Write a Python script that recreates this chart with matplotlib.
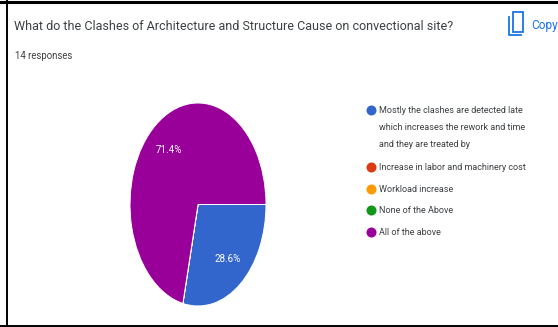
import matplotlib
matplotlib.use("Agg")
import matplotlib.pyplot as plt
from matplotlib.patches import Rectangle

TITLE = "What do the Clashes of Architecture and Structure Cause on convectional site?"
SUBTITLE = "14 responses"
LABELS = [
    "Mostly the clashes are detected late\nwhich increases the rework and time\nand they are treated by",
    "Increase in labor and machinery cost",
    "Workload increase",
    "None of the Above",
    "All of the above",
]
RESPONSES = [4, 0, 0, 0, 10]
COLORS = ["#3366cc", "#dc3912", "#ff9900", "#109618", "#990099"]
LEGEND_Y = [110, 167, 189, 210, 232]

W, H = 558, 327
TEXT_COLOR = "#3c4043"
BLUE = "#1a73e8"

plt.rcParams["font.family"] = ["Roboto", "DejaVu Sans"]


def pct_label(pct):
    return f"{pct:.1f}%" if pct > 0 else ""


fig = plt.figure(figsize=(W / 100, H / 100), dpi=100, facecolor="white")

# overlay in pixel units for the frame, header and legend
page = fig.add_axes([0, 0, 1, 1])
page.set_xlim(0, W)
page.set_ylim(H, 0)
page.axis("off")

page.plot([7, 7], [0, H], color="black", lw=1.4)
page.plot([0, W], [1.5, 1.5], color="black", lw=2.2)
page.plot([0, W], [326, 326], color="black", lw=1.4)

page.text(14, 26, TITLE, fontsize=9, color=TEXT_COLOR, va="center")
page.text(15, 56, SUBTITLE, fontsize=6.9, color=TEXT_COLOR, va="center")

# copy icon
page.add_patch(Rectangle((512.5, 11.5), 10.5, 20, fill=False, ec=BLUE, lw=1.3))
page.plot([509, 509, 521], [17, 35, 35], color=BLUE, lw=1.3)
page.text(531, 25, "Copy", fontsize=8.6, color=BLUE, va="center")

for label, color, y in zip(LABELS, COLORS, LEGEND_Y):
    page.scatter([371], [y], s=52, color=color, linewidths=0)
    page.text(379, y - 4, label, fontsize=6.5, color=TEXT_COLOR, va="top", linespacing=2.15)

# pie is stretched vertically, so the axes box sets the ellipse
ax = fig.add_axes([130 / W, 1 - 306 / H, 136 / W, 203 / H])
ax.pie(
    RESPONSES,
    colors=COLORS,
    startangle=0,
    counterclock=False,
    radius=1,
    autopct=pct_label,
    pctdistance=0.69,
    wedgeprops={"edgecolor": "white", "linewidth": 0.7},
    textprops={"color": "white", "fontsize": 7},
)
ax.set_aspect("auto")
ax.set_xlim(-1, 1)
ax.set_ylim(-1, 1)

fig.savefig("out.png", dpi=100)
